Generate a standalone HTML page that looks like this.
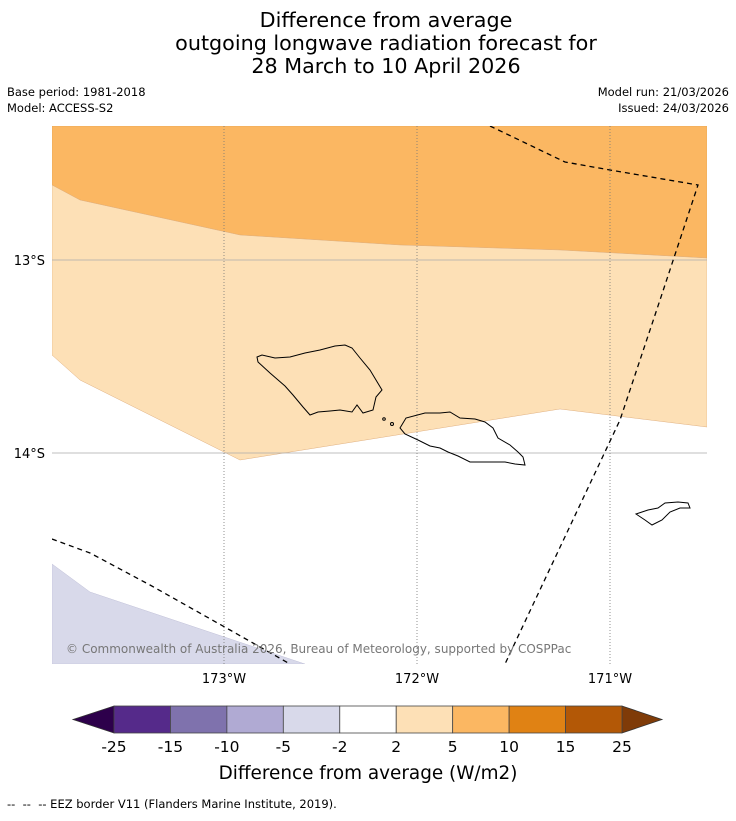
<!DOCTYPE html>
<html><head><meta charset="utf-8"><style>
body{margin:0;background:#fff;width:736px;height:816px;overflow:hidden;font-family:"Liberation Sans","DejaVu Sans",sans-serif}
</style></head><body>
<svg width="736" height="816" xmlns="http://www.w3.org/2000/svg" style="font-family:'DejaVu Sans','Liberation Sans',sans-serif">
<g font-size="20.7" text-anchor="middle" fill="#000">
<text x="386" y="27">Difference from average</text>
<text x="386" y="50">outgoing longwave radiation forecast for</text>
<text x="386" y="73">28 March to 10 April 2026</text>
</g>
<g font-size="11.5" fill="#000">
<text x="7" y="96">Base period: 1981-2018</text>
<text x="7" y="112">Model: ACCESS-S2</text>
<text x="729" y="96" text-anchor="end">Model run: 21/03/2026</text>
<text x="729" y="112" text-anchor="end">Issued: 24/03/2026</text>
</g>
<defs><clipPath id="mc"><rect x="52" y="126" width="655" height="538"/></clipPath></defs>
<g clip-path="url(#mc)">
<rect x="52" y="126" width="655" height="538" fill="#fff"/>
<polygon fill="#fbb762" stroke="#e0a050" stroke-width="0.5" points="52,126 707,126 707,258 560,250 400,245 240,235 80,200 52,185"/>
<polygon fill="#fde0b6" stroke="#e0b080" stroke-width="0.5" points="52,185 80,200 240,235 400,245 560,250 707,258 707,427 560,409 240,460 80,380 52,355"/>
<polygon fill="#d8d9ea" stroke="#c0c0d8" stroke-width="0.5" points="52,564 90,592 305,664 52,664"/>
<g stroke="#aaa" stroke-width="0.8">
<line x1="52" y1="260" x2="707" y2="260"/>
<line x1="52" y1="453" x2="707" y2="453"/>
</g>
<g stroke="#777" stroke-width="0.8" stroke-dasharray="1,2">
<line x1="224" y1="126" x2="224" y2="664"/>
<line x1="417" y1="126" x2="417" y2="664"/>
<line x1="610" y1="126" x2="610" y2="664"/>
</g>
<g fill="none" stroke="#000" stroke-width="1">
<polygon points="257,357 262,355 275,358 290,357 305,353 320,350 335,346 345,345 352,348 360,358 370,370 376,380 382,390 376,397 373,410 363,413 357,405 352,412 340,410 330,411 318,412 310,415 303,407 293,395 285,386 270,373 258,362"/>
<polygon points="400,428 406,418 425,413 440,413 450,412 460,418 475,419 485,422 493,428 498,438 510,445 518,452 523,457 525,465 515,464 505,462 490,462 470,462 458,456 448,452 440,448 430,446 418,440 405,434"/>
<polygon points="636,514 648,510 658,508 665,503 678,502 688,503 690,508 680,508 670,512 662,520 652,525 645,520"/>
<circle cx="384" cy="419" r="1.3"/><circle cx="392" cy="424" r="1.5"/>
</g>
<g fill="none" stroke="#000" stroke-width="1.3" stroke-dasharray="5,4">
<polyline points="490,126 565,162 610,170 698,185 660,300 620,420 505,664"/>
<polyline points="52,539 90,553 150,585 230,630 290,664"/>
</g>
<text x="66" y="653" font-size="12" fill="#777">© Commonwealth of Australia 2026, Bureau of Meteorology, supported by COSPPac</text>
</g>
<g font-size="13" fill="#000">
<text x="45" y="265" text-anchor="end">13°S</text>
<text x="45" y="458" text-anchor="end">14°S</text>
</g>
<g font-size="13" fill="#000" text-anchor="middle">
<text x="224" y="683">173°W</text>
<text x="417" y="683">172°W</text>
<text x="610" y="683">171°W</text>
</g>
<g id="cb"></g>
<text x="368" y="779" font-size="18.4" text-anchor="middle">Difference from average (W/m2)</text>
<text x="7" y="808" font-size="11.5" xml:space="preserve" style="white-space:pre">--  --  -- EEZ border V11 (Flanders Marine Institute, 2019).</text>
</svg>
<script>
const levels=["-25","-15","-10","-5","-2","2","5","10","15","25"];
const colors=["#552a8a","#7f72ad","#b0aad3","#d8d9ea","#ffffff","#fde0b6","#fbb762","#e08214","#b35806"];
const extColors=["#2d004b","#7f3b08"];
const ns="http://www.w3.org/2000/svg",cb=document.getElementById("cb");
const x0=114,x1=622,y0=706,y1=733,w=(x1-x0)/colors.length;
function mk(t,a){const e=document.createElementNS(ns,t);for(const k in a)e.setAttribute(k,a[k]);cb.appendChild(e);return e;}
let t1=mk("polygon",{points:`${x0},${y0} ${x0},${y1} 73,${(y0+y1)/2}`,fill:extColors[0],stroke:"#333","stroke-width":0.8});


let t2=mk("polygon",{points:`${x1},${y0} ${x1},${y1} 662,${(y0+y1)/2}`,fill:extColors[1],stroke:"#333","stroke-width":0.8});


colors.forEach((c,i)=>{
 const r=mk("rect",{x:x0+i*w,y:y0,width:w,height:y1-y0,fill:c,stroke:"#444","stroke-width":0.8});
 
 
});
levels.forEach((l,i)=>{
 const t=mk("text",{x:x0+i*w,y:752,"font-size":15.5,"text-anchor":"middle"});
 t.textContent=l;
 
 
});
</script>
</body></html>
